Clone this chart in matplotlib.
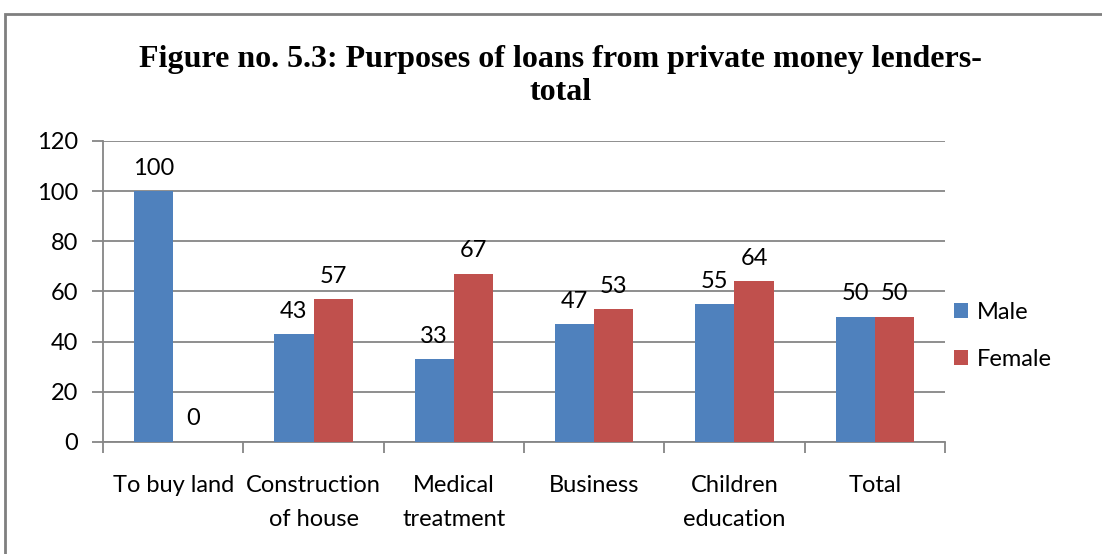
import matplotlib.pyplot as plt
import numpy as np
from matplotlib.patches import Rectangle

# loan purposes and share of borrowers (%) by gender
purposes = ["To buy land", "Construction\nof house", "Medical\ntreatment",
            "Business", "Children\neducation", "Total"]
male = [100, 43, 33, 47, 55, 50]
female = [0, 57, 67, 53, 64, 50]

blue = "#4F81BD"
red = "#C0504D"
grid_col = "#868686"
label_font = "Lato"
fs = 17

fig = plt.figure(figsize=(11.02, 5.54), dpi=100)
ax = fig.add_axes([0.0935, 0.2022, 0.764, 0.5433])

x = np.arange(len(purposes))
w = 0.28
b1 = ax.bar(x - w / 2, male, w, color=blue, label="Male", zorder=3)
b2 = ax.bar(x + w / 2, female, w, color=red, label="Female", zorder=3)

for bars, vals in ((b1, male), (b2, female)):
    for bar, v in zip(bars, vals):
        ax.annotate(str(v), (bar.get_x() + bar.get_width() / 2, v),
                    xytext=(0, 9), textcoords="offset points",
                    ha="center", va="bottom", fontsize=fs,
                    family=label_font, zorder=4)

ax.set_xlim(-0.5, len(purposes) - 0.5)
ax.set_ylim(0, 120)
ax.set_yticks(range(0, 121, 20))
ax.yaxis.grid(True, color=grid_col, linewidth=1.3, zorder=0)
ax.set_axisbelow(True)

# category ticks sit on the boundaries between groups
ax.set_xticks(np.arange(-0.5, len(purposes), 1.0))
ax.set_xticklabels([])
ax.set_xticks(x, minor=True)
ax.set_xticklabels(purposes, minor=True, fontsize=fs, family=label_font,
                   linespacing=1.75)
ax.tick_params(axis="x", which="minor", length=0, pad=24)
ax.tick_params(axis="x", which="major", length=8, color=grid_col, width=1.3)
ax.tick_params(axis="y", length=8, color=grid_col, width=1.3, pad=10)
for lbl in ax.get_yticklabels():
    lbl.set_fontsize(fs)
    lbl.set_family(label_font)

for s in ("top", "right"):
    ax.spines[s].set_visible(False)
for s in ("left", "bottom"):
    ax.spines[s].set_color(grid_col)
    ax.spines[s].set_linewidth(1.3)

ax.legend(loc="center left", bbox_to_anchor=(0.985, 0.352), frameon=False,
          prop={"family": label_font, "size": fs}, handlelength=0.6,
          handleheight=0.6, handletextpad=0.4, labelspacing=1.1)

fig.text(0.509, 0.863, "Figure no. 5.3: Purposes of loans from private money lenders-\ntotal",
         ha="center", va="center", fontsize=23, fontweight="bold",
         family="Liberation Serif", linespacing=1.15)

# outer chart frame
fig.patches.append(Rectangle((0.0045, -0.05), 1.2, 0.9747 + 0.05,
                             transform=fig.transFigure, fill=False,
                             edgecolor="#7F7F7F", linewidth=2))

fig.savefig("out.png", dpi=100)
